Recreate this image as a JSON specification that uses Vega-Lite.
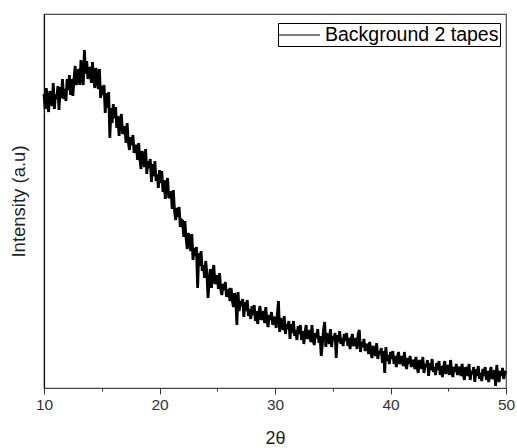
{
"$schema": "https://vega.github.io/schema/vega-lite/v6.json",
"width": 462, "height": 374,
"autosize": {"type": "none"},
"padding": {"left": 44, "top": 14, "right": 11, "bottom": 60},
"config": {"font": "Liberation Sans", "view": {"stroke": "#4d4d4d", "strokeWidth": 1.2}, "axis": {"grid": false}},
"data": {"values": [
{"theta":10.0,"counts":294},{"theta":10.1,"counts":279},{"theta":10.2,"counts":300},{"theta":10.3,"counts":285},{"theta":10.4,"counts":276},{"theta":10.5,"counts":297},{"theta":10.6,"counts":291},{"theta":10.7,"counts":282},{"theta":10.8,"counts":305},{"theta":10.9,"counts":279},
{"theta":11.0,"counts":294},{"theta":11.1,"counts":289},{"theta":11.2,"counts":302},{"theta":11.3,"counts":278},{"theta":11.4,"counts":301},{"theta":11.5,"counts":290},{"theta":11.6,"counts":309},{"theta":11.7,"counts":289},{"theta":11.8,"counts":299},{"theta":11.9,"counts":287},
{"theta":12.0,"counts":309},{"theta":12.1,"counts":298},{"theta":12.2,"counts":313},{"theta":12.3,"counts":293},{"theta":12.4,"counts":309},{"theta":12.5,"counts":292},{"theta":12.6,"counts":310},{"theta":12.7,"counts":322},{"theta":12.8,"counts":303},{"theta":12.9,"counts":310},
{"theta":13.0,"counts":319},{"theta":13.1,"counts":303},{"theta":13.2,"counts":328},{"theta":13.3,"counts":309},{"theta":13.4,"counts":303},{"theta":13.5,"counts":338},{"theta":13.6,"counts":314},{"theta":13.7,"counts":327},{"theta":13.8,"counts":309},{"theta":13.9,"counts":318},
{"theta":14.0,"counts":321},{"theta":14.1,"counts":305},{"theta":14.2,"counts":326},{"theta":14.3,"counts":309},{"theta":14.4,"counts":300},{"theta":14.5,"counts":320},{"theta":14.6,"counts":311},{"theta":14.7,"counts":299},{"theta":14.8,"counts":319},{"theta":14.9,"counts":290},
{"theta":15.0,"counts":302},{"theta":15.1,"counts":293},{"theta":15.2,"counts":303},{"theta":15.3,"counts":275},{"theta":15.4,"counts":295},{"theta":15.5,"counts":280},{"theta":15.6,"counts":296},{"theta":15.7,"counts":250},{"theta":15.8,"counts":280},{"theta":15.9,"counts":265},
{"theta":16.0,"counts":284},{"theta":16.1,"counts":270},{"theta":16.2,"counts":281},{"theta":16.3,"counts":260},{"theta":16.4,"counts":272},{"theta":16.5,"counts":252},{"theta":16.6,"counts":266},{"theta":16.7,"counts":274},{"theta":16.8,"counts":254},{"theta":16.9,"counts":257},
{"theta":17.0,"counts":262},{"theta":17.1,"counts":245},{"theta":17.2,"counts":265},{"theta":17.3,"counts":246},{"theta":17.4,"counts":238},{"theta":17.5,"counts":251},{"theta":17.6,"counts":243},{"theta":17.7,"counts":253},{"theta":17.8,"counts":235},{"theta":17.9,"counts":242},
{"theta":18.0,"counts":242},{"theta":18.1,"counts":228},{"theta":18.2,"counts":245},{"theta":18.3,"counts":229},{"theta":18.4,"counts":219},{"theta":18.5,"counts":237},{"theta":18.6,"counts":231},{"theta":18.7,"counts":221},{"theta":18.8,"counts":239},{"theta":18.9,"counts":214},
{"theta":19.0,"counts":227},{"theta":19.1,"counts":220},{"theta":19.2,"counts":229},{"theta":19.3,"counts":206},{"theta":19.4,"counts":224},{"theta":19.5,"counts":212},{"theta":19.6,"counts":227},{"theta":19.7,"counts":207},{"theta":19.8,"counts":214},{"theta":19.9,"counts":200},
{"theta":20.0,"counts":218},{"theta":20.1,"counts":205},{"theta":20.2,"counts":217},{"theta":20.3,"counts":196},{"theta":20.4,"counts":208},{"theta":20.5,"counts":189},{"theta":20.6,"counts":203},{"theta":20.7,"counts":210},{"theta":20.8,"counts":190},{"theta":20.9,"counts":192},
{"theta":21.0,"counts":197},{"theta":21.1,"counts":179},{"theta":21.2,"counts":198},{"theta":21.3,"counts":177},{"theta":21.4,"counts":168},{"theta":21.5,"counts":180},{"theta":21.6,"counts":171},{"theta":21.7,"counts":181},{"theta":21.8,"counts":161},{"theta":21.9,"counts":168},
{"theta":22.0,"counts":167},{"theta":22.1,"counts":151},{"theta":22.2,"counts":167},{"theta":22.3,"counts":150},{"theta":22.4,"counts":139},{"theta":22.5,"counts":155},{"theta":22.6,"counts":148},{"theta":22.7,"counts":137},{"theta":22.8,"counts":154},{"theta":22.9,"counts":128},
{"theta":23.0,"counts":140},{"theta":23.1,"counts":132},{"theta":23.2,"counts":141},{"theta":23.3,"counts":100},{"theta":23.4,"counts":135},{"theta":23.5,"counts":122},{"theta":23.6,"counts":137},{"theta":23.7,"counts":117},{"theta":23.8,"counts":123},{"theta":23.9,"counts":110},
{"theta":24.0,"counts":127},{"theta":24.1,"counts":115},{"theta":24.2,"counts":90},{"theta":24.3,"counts":106},{"theta":24.4,"counts":119},{"theta":24.5,"counts":100},{"theta":24.6,"counts":114},{"theta":24.7,"counts":123},{"theta":24.8,"counts":104},{"theta":24.9,"counts":107},
{"theta":25.0,"counts":113},{"theta":25.1,"counts":99},{"theta":25.2,"counts":115},{"theta":25.3,"counts":99},{"theta":25.4,"counts":93},{"theta":25.5,"counts":104},{"theta":25.6,"counts":98},{"theta":25.7,"counts":106},{"theta":25.8,"counts":91},{"theta":25.9,"counts":97},
{"theta":26.0,"counts":98},{"theta":26.1,"counts":87},{"theta":26.2,"counts":100},{"theta":26.3,"counts":88},{"theta":26.4,"counts":81},{"theta":26.5,"counts":95},{"theta":26.6,"counts":89},{"theta":26.7,"counts":63},{"theta":26.8,"counts":96},{"theta":26.9,"counts":77},
{"theta":27.0,"counts":87},{"theta":27.1,"counts":82},{"theta":27.2,"counts":89},{"theta":27.3,"counts":71},{"theta":27.4,"counts":86},{"theta":27.5,"counts":77},{"theta":27.6,"counts":88},{"theta":27.7,"counts":72},{"theta":27.8,"counts":79},{"theta":27.9,"counts":69},
{"theta":28.0,"counts":82},{"theta":28.1,"counts":73},{"theta":28.2,"counts":83},{"theta":28.3,"counts":67},{"theta":28.4,"counts":77},{"theta":28.5,"counts":64},{"theta":28.6,"counts":75},{"theta":28.7,"counts":82},{"theta":28.8,"counts":68},{"theta":28.9,"counts":71},
{"theta":29.0,"counts":77},{"theta":29.1,"counts":65},{"theta":29.2,"counts":81},{"theta":29.3,"counts":67},{"theta":29.4,"counts":61},{"theta":29.5,"counts":73},{"theta":29.6,"counts":68},{"theta":29.7,"counts":76},{"theta":29.8,"counts":63},{"theta":29.9,"counts":69},
{"theta":30.0,"counts":71},{"theta":30.1,"counts":60},{"theta":30.2,"counts":74},{"theta":30.3,"counts":87},{"theta":30.4,"counts":56},{"theta":30.5,"counts":70},{"theta":30.6,"counts":64},{"theta":30.7,"counts":58},{"theta":30.8,"counts":72},{"theta":30.9,"counts":54},
{"theta":31.0,"counts":64},{"theta":31.1,"counts":59},{"theta":31.2,"counts":67},{"theta":31.3,"counts":49},{"theta":31.4,"counts":64},{"theta":31.5,"counts":55},{"theta":31.6,"counts":67},{"theta":31.7,"counts":52},{"theta":31.8,"counts":58},{"theta":31.9,"counts":48},
{"theta":32.0,"counts":62},{"theta":32.1,"counts":54},{"theta":32.2,"counts":63},{"theta":32.3,"counts":48},{"theta":32.4,"counts":57},{"theta":32.5,"counts":44},{"theta":32.6,"counts":56},{"theta":32.7,"counts":63},{"theta":32.8,"counts":49},{"theta":32.9,"counts":52},
{"theta":33.0,"counts":58},{"theta":33.1,"counts":46},{"theta":33.2,"counts":63},{"theta":33.3,"counts":48},{"theta":33.4,"counts":43},{"theta":33.5,"counts":55},{"theta":33.6,"counts":50},{"theta":33.7,"counts":59},{"theta":33.8,"counts":45},{"theta":33.9,"counts":52},
{"theta":34.0,"counts":32},{"theta":34.1,"counts":44},{"theta":34.2,"counts":58},{"theta":34.3,"counts":66},{"theta":34.4,"counts":41},{"theta":34.5,"counts":55},{"theta":34.6,"counts":50},{"theta":34.7,"counts":44},{"theta":34.8,"counts":59},{"theta":34.9,"counts":41},
{"theta":35.0,"counts":52},{"theta":35.1,"counts":48},{"theta":35.2,"counts":55},{"theta":35.3,"counts":30},{"theta":35.4,"counts":53},{"theta":35.5,"counts":46},{"theta":35.6,"counts":57},{"theta":35.7,"counts":44},{"theta":35.8,"counts":50},{"theta":35.9,"counts":42},
{"theta":36.0,"counts":54},{"theta":36.1,"counts":47},{"theta":36.2,"counts":55},{"theta":36.3,"counts":42},{"theta":36.4,"counts":50},{"theta":36.5,"counts":39},{"theta":36.6,"counts":49},{"theta":36.7,"counts":54},{"theta":36.8,"counts":42},{"theta":36.9,"counts":45},
{"theta":37.0,"counts":50},{"theta":37.1,"counts":39},{"theta":37.2,"counts":54},{"theta":37.3,"counts":58},{"theta":37.4,"counts":36},{"theta":37.5,"counts":46},{"theta":37.6,"counts":41},{"theta":37.7,"counts":49},{"theta":37.8,"counts":37},{"theta":37.9,"counts":42},
{"theta":38.0,"counts":44},{"theta":38.1,"counts":34},{"theta":38.2,"counts":46},{"theta":38.3,"counts":36},{"theta":38.4,"counts":30},{"theta":38.5,"counts":42},{"theta":38.6,"counts":38},{"theta":38.7,"counts":32},{"theta":38.8,"counts":45},{"theta":38.9,"counts":29},
{"theta":39.0,"counts":37},{"theta":39.1,"counts":34},{"theta":39.2,"counts":40},{"theta":39.3,"counts":25},{"theta":39.4,"counts":37},{"theta":39.5,"counts":15},{"theta":39.6,"counts":41},{"theta":39.7,"counts":27},{"theta":39.8,"counts":33},{"theta":39.9,"counts":24},
{"theta":40.0,"counts":36},{"theta":40.1,"counts":29},{"theta":40.2,"counts":37},{"theta":40.3,"counts":24},{"theta":40.4,"counts":32},{"theta":40.5,"counts":21},{"theta":40.6,"counts":31},{"theta":40.7,"counts":36},{"theta":40.8,"counts":24},{"theta":40.9,"counts":27},
{"theta":41.0,"counts":32},{"theta":41.1,"counts":22},{"theta":41.2,"counts":36},{"theta":41.3,"counts":24},{"theta":41.4,"counts":19},{"theta":41.5,"counts":30},{"theta":41.6,"counts":24},{"theta":41.7,"counts":32},{"theta":41.8,"counts":21},{"theta":41.9,"counts":26},
{"theta":42.0,"counts":28},{"theta":42.1,"counts":19},{"theta":42.2,"counts":31},{"theta":42.3,"counts":21},{"theta":42.4,"counts":15},{"theta":42.5,"counts":28},{"theta":42.6,"counts":24},{"theta":42.7,"counts":19},{"theta":42.8,"counts":31},{"theta":42.9,"counts":15},
{"theta":43.0,"counts":24},{"theta":43.1,"counts":21},{"theta":43.2,"counts":28},{"theta":43.3,"counts":12},{"theta":43.4,"counts":25},{"theta":43.5,"counts":18},{"theta":43.6,"counts":29},{"theta":43.7,"counts":16},{"theta":43.8,"counts":21},{"theta":43.9,"counts":13},
{"theta":44.0,"counts":25},{"theta":44.1,"counts":18},{"theta":44.2,"counts":27},{"theta":44.3,"counts":13},{"theta":44.4,"counts":22},{"theta":44.5,"counts":11},{"theta":44.6,"counts":21},{"theta":44.7,"counts":27},{"theta":44.8,"counts":14},{"theta":44.9,"counts":18},
{"theta":45.0,"counts":23},{"theta":45.1,"counts":13},{"theta":45.2,"counts":28},{"theta":45.3,"counts":16},{"theta":45.4,"counts":11},{"theta":45.5,"counts":21},{"theta":45.6,"counts":16},{"theta":45.7,"counts":24},{"theta":45.8,"counts":13},{"theta":45.9,"counts":19},
{"theta":46.0,"counts":21},{"theta":46.1,"counts":12},{"theta":46.2,"counts":24},{"theta":46.3,"counts":14},{"theta":46.4,"counts":8},{"theta":46.5,"counts":21},{"theta":46.6,"counts":17},{"theta":46.7,"counts":12},{"theta":46.8,"counts":24},{"theta":46.9,"counts":8},
{"theta":47.0,"counts":17},{"theta":47.1,"counts":14},{"theta":47.2,"counts":21},{"theta":47.3,"counts":6},{"theta":47.4,"counts":19},{"theta":47.5,"counts":12},{"theta":47.6,"counts":22},{"theta":47.7,"counts":9},{"theta":47.8,"counts":15},{"theta":47.9,"counts":7},
{"theta":48.0,"counts":19},{"theta":48.1,"counts":12},{"theta":48.2,"counts":21},{"theta":48.3,"counts":8},{"theta":48.4,"counts":17},{"theta":48.5,"counts":6},{"theta":48.6,"counts":15},{"theta":48.7,"counts":21},{"theta":48.8,"counts":9},{"theta":48.9,"counts":13},
{"theta":49.0,"counts":18},{"theta":49.1,"counts":2},{"theta":49.2,"counts":23},{"theta":49.3,"counts":11},{"theta":49.4,"counts":6},{"theta":49.5,"counts":17},{"theta":49.6,"counts":12},{"theta":49.7,"counts":20},{"theta":49.8,"counts":9},{"theta":49.9,"counts":15},
{"theta":50.0,"counts":17}
]},
"layer": [
{
"mark": {"type": "line", "strokeWidth": 2.8, "strokeJoin": "miter", "strokeMiterLimit": 3, "interpolate": "linear"},
"encoding": {
"x": {"field": "theta", "type": "quantitative", "scale": {"domain": [10, 50], "nice": false, "zero": false},
"axis": {"values": [10, 20, 30, 40, 50], "title": "2θ", "tickSize": 6, "tickColor": "#333", "domainColor": "#444", "domainWidth": 1.2,
"labelFontSize": 15.5, "labelColor": "#333", "labelPadding": 3, "labelFlush": false,
"titleFontSize": 18, "titleFontWeight": "normal", "titleColor": "#222", "titlePadding": 17}},
"y": {"field": "counts", "type": "quantitative", "scale": {"domain": [0, 374], "nice": false},
"axis": {"title": "Intensity (a.u)", "labels": false, "ticks": false, "domainColor": "#111", "domainWidth": 1.2,
"titleFontSize": 18.5, "titleFontWeight": "normal", "titleColor": "#222", "titlePadding": 16}},
"color": {"datum": "Background 2 tapes", "type": "nominal", "scale": {"range": ["black"]},
"legend": {"title": null, "orient": "none", "legendX": 234, "legendY": 9, "strokeColor": "black", "padding": 1,
"symbolType": "M-2,0H2", "symbolSize": 441, "symbolStrokeWidth": 1, "symbolStrokeColor": "black", "symbolOffset": 9,
"labelFontSize": 19.5, "labelColor": "black", "labelOffset": 15, "labelLimit": 400}}
}
},
{
"mark": {"type": "rule", "opacity": 0},
"encoding": {
"x": {"field": "theta", "type": "quantitative", "scale": {"domain": [10, 50], "nice": false, "zero": false},
"axis": {"orient": "bottom", "values": [15, 25, 35, 45], "labels": false, "title": null, "domain": false, "tickSize": 3, "tickColor": "#333"}}
}
}
],
"resolve": {"axis": {"x": "independent"}}
}
